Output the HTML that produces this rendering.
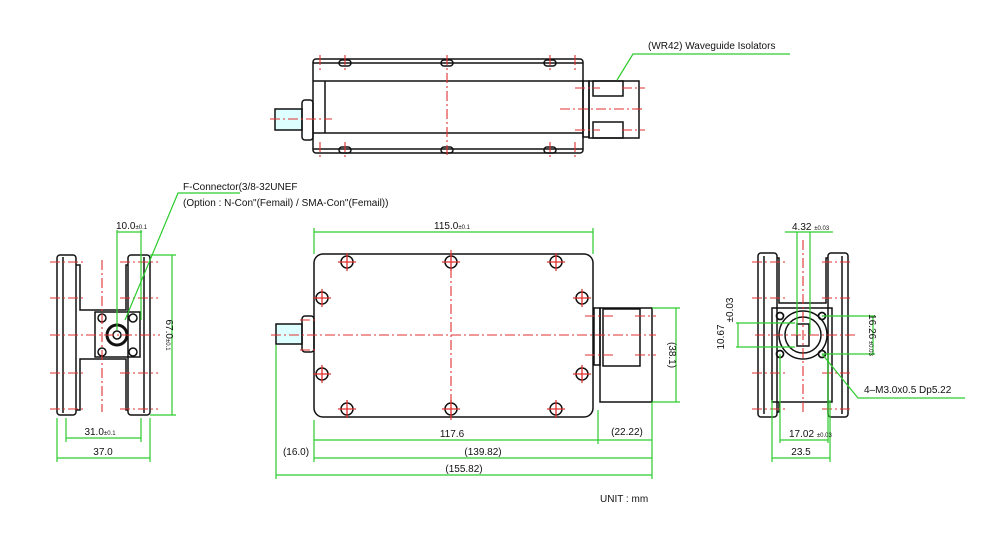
<!DOCTYPE html>
<html><head><meta charset="utf-8"><style>
html,body{margin:0;padding:0;background:#fff}
svg{display:block}
text{font-family:"Liberation Sans",sans-serif;fill:#111;font-size:10px}
.k{stroke:#111;stroke-width:1.5;fill:none}
.r{stroke:#e03030;stroke-width:1.1;fill:none;stroke-dasharray:10 3 2 3}
.g{stroke:#2ccc2c;stroke-width:1.2;fill:none}
</style></head><body>
<svg width="1004" height="554" viewBox="0 0 1004 554">
<!-- TOP VIEW -->
<rect class="k" x="313" y="59" width="270" height="94" rx="3"/>
<line class="k" x1="313" y1="63" x2="583" y2="63"/><line class="k" x1="313" y1="81" x2="583" y2="81"/>
<line class="k" x1="313" y1="133" x2="583" y2="133"/><line class="k" x1="313" y1="149" x2="583" y2="149"/>
<line class="k" x1="325" y1="81" x2="325" y2="133"/>
<rect class="k" x="583" y="81" width="6" height="56"/>
<rect class="k" x="589" y="81" width="50" height="57"/>
<rect class="k" x="593" y="81" width="30" height="15"/><rect class="k" x="593" y="122" width="30" height="16"/>
<rect class="k" x="275" y="109" width="27" height="21" style="fill:#dff"/>
<rect class="k" x="302" y="100" width="11" height="40" rx="3"/>
<g class="k"><rect x="339" y="60" width="12" height="6" rx="3"/><rect x="441" y="60" width="12" height="6" rx="3"/><rect x="544" y="60" width="12" height="6" rx="3"/>
<rect x="339" y="147" width="12" height="6" rx="3"/><rect x="441" y="147" width="12" height="6" rx="3"/><rect x="544" y="147" width="12" height="6" rx="3"/></g>
<g class="r"><line x1="447" y1="55" x2="447" y2="158"/><line x1="270" y1="119" x2="332" y2="119"/><line x1="560" y1="109" x2="645" y2="109"/>
<line x1="575" y1="88" x2="600" y2="88"/><line x1="622" y1="88" x2="645" y2="88"/><line x1="575" y1="130" x2="600" y2="130"/><line x1="622" y1="130" x2="645" y2="130"/>
<line x1="345" y1="55" x2="345" y2="70"/><line x1="550" y1="55" x2="550" y2="70"/><line x1="345" y1="142" x2="345" y2="158"/><line x1="550" y1="142" x2="550" y2="158"/>
<line x1="320" y1="55" x2="320" y2="70"/><line x1="575" y1="55" x2="575" y2="70"/><line x1="320" y1="142" x2="320" y2="158"/><line x1="575" y1="142" x2="575" y2="158"/></g>
<polyline class="g" points="617,80 633,54 790,54"/>
<text x="648" y="49" font-size="9">(WR42) Waveguide Isolators</text>

<!-- FRONT VIEW -->
<rect class="k" x="314" y="254" width="279" height="163" rx="9"/>
<rect class="k" x="594" y="308" width="6" height="57"/>
<rect class="k" x="600" y="308" width="52" height="94"/>
<rect class="k" x="603" y="309" width="37" height="57"/>
<rect class="k" x="276" y="324" width="26" height="20" style="fill:#dff"/>
<rect class="k" x="302" y="316" width="12" height="36" rx="3"/>
<g class="k" stroke-width="2.2">
<circle cx="347" cy="262" r="6"/><circle cx="451" cy="262" r="6"/><circle cx="556" cy="262" r="6"/>
<circle cx="322" cy="298" r="6"/><circle cx="582" cy="298" r="6"/><circle cx="322" cy="374" r="6"/><circle cx="582" cy="374" r="6"/>
<circle cx="347" cy="409" r="6"/><circle cx="451" cy="409" r="6"/><circle cx="556" cy="409" r="6"/></g>
<g stroke="#e03030" stroke-width="1.3">
<path d="M338 262h18M347 253v18M442 262h18M451 253v18M547 262h18M556 253v18M313 298h18M322 289v18M573 298h18M582 289v18M313 374h18M322 365v18M573 374h18M582 365v18M338 409h18M347 400v18M442 409h18M451 400v18M547 409h18M556 400v18"/></g>
<g class="r"><line x1="271" y1="335" x2="656" y2="335"/><line x1="451" y1="250" x2="451" y2="420"/>
<line x1="300" y1="320" x2="316" y2="320"/><line x1="300" y1="350" x2="316" y2="350"/>
<line x1="585" y1="316" x2="615" y2="316"/><line x1="635" y1="316" x2="656" y2="316"/><line x1="585" y1="355" x2="615" y2="355"/><line x1="635" y1="355" x2="656" y2="355"/></g>
<g class="g">
<path d="M314 232H593M314 228V254M593 228V254"/>
<path d="M314 440H652M314 420V462M652 402V479M598 410V444"/>
<path d="M314 458H652M276 475H652M276 345V479"/>
<path d="M652 308H680M652 402H680M676 308V402"/></g>
<text x="452" y="229" text-anchor="middle">115.0<tspan font-size="6">±0.1</tspan></text>
<text x="452" y="437" text-anchor="middle">117.6</text>
<text x="627" y="435" text-anchor="middle">(22.22)</text>
<text x="296" y="455" text-anchor="middle">(16.0)</text>
<text x="483" y="455" text-anchor="middle">(139.82)</text>
<text x="464" y="472" text-anchor="middle">(155.82)</text>
<text transform="translate(669,355) rotate(90)" text-anchor="middle">(38.1)</text>

<!-- LEFT VIEW -->
<rect class="k" x="57" y="255" width="19" height="160" rx="3"/><rect class="k" x="128" y="255" width="22" height="160" rx="3"/>
<line class="k" x1="63" y1="257" x2="63" y2="413"/><line class="k" x1="144" y1="257" x2="144" y2="413"/>
<path class="k" d="M76 265H80V310H126V265H128M76 410H80V359H126V410H128"/>
<rect class="k" x="95" y="312" width="45" height="45"/>
<circle cx="117" cy="335" r="10" fill="none" stroke="#111" stroke-width="3"/><circle class="k" cx="117" cy="335" r="4"/>
<g class="k"><circle cx="102" cy="318" r="4"/><circle cx="133" cy="318" r="4"/><circle cx="102" cy="352" r="4"/><circle cx="133" cy="352" r="4"/></g>
<g class="r"><line x1="102" y1="260" x2="102" y2="412"/><line x1="50" y1="335" x2="160" y2="335"/>
<line x1="50" y1="262" x2="85" y2="262"/><line x1="120" y1="262" x2="158" y2="262"/><line x1="50" y1="298" x2="85" y2="298"/><line x1="120" y1="298" x2="158" y2="298"/>
<line x1="50" y1="373" x2="85" y2="373"/><line x1="120" y1="373" x2="158" y2="373"/><line x1="50" y1="409" x2="85" y2="409"/><line x1="120" y1="409" x2="158" y2="409"/></g>
<g class="g"><path d="M117 232H142M117 230V330M141 230V320"/><path d="M150 255H176M150 415H176M172 255V415"/>
<path d="M66 438H141M66 418V442M141 418V442M57 458H150M57 418V462M150 418V462"/>
<polyline points="125,320 178,193 240,193"/></g>
<text x="116" y="229">10.0<tspan font-size="6">±0.1</tspan></text>
<text transform="translate(166,335) rotate(90)" text-anchor="middle">67.0<tspan font-size="6">±0.1</tspan></text>
<text x="100" y="435" text-anchor="middle">31.0<tspan font-size="6">±0.1</tspan></text>
<text x="103" y="455" text-anchor="middle">37.0</text>
<text x="183" y="190" font-size="9">F-Connector(3/8-32UNEF</text>
<text x="183" y="206" font-size="9">(Option : N-Con"(Femail) / SMA-Con"(Femail))</text>

<!-- RIGHT VIEW -->
<rect class="k" x="758" y="253" width="19" height="164" rx="3"/><rect class="k" x="828" y="253" width="20" height="164" rx="3"/>
<line class="k" x1="764" y1="256" x2="764" y2="414"/><line class="k" x1="842" y1="256" x2="842" y2="414"/>
<path class="k" d="M777 258H779V303H826V258H828M777 412H779V402"/>
<rect class="k" x="772" y="308" width="60" height="94"/>
<circle class="k" cx="803" cy="335" r="24" stroke-width="1.7"/><circle class="k" cx="803" cy="335" r="18"/>
<rect class="k" x="797" y="324" width="12" height="22"/>
<g fill="none" stroke="#111" stroke-width="1.7"><circle cx="780" cy="316" r="3.5"/><circle cx="822" cy="316" r="3.5"/><circle cx="780" cy="354" r="3.5"/><circle cx="822" cy="354" r="3.5"/></g>
<g class="r"><line x1="803" y1="240" x2="803" y2="412"/><line x1="755" y1="335" x2="855" y2="335"/>
<line x1="752" y1="262" x2="785" y2="262"/><line x1="822" y1="262" x2="852" y2="262"/><line x1="752" y1="298" x2="785" y2="298"/><line x1="822" y1="298" x2="852" y2="298"/>
<line x1="752" y1="373" x2="785" y2="373"/><line x1="822" y1="373" x2="852" y2="373"/><line x1="752" y1="409" x2="785" y2="409"/><line x1="822" y1="409" x2="852" y2="409"/></g>
<g class="g"><path d="M785 232H833M797 232V335M810 232V335"/>
<path d="M822 316H875M822 354H875M873 316V354"/>
<path d="M736 323H795M736 347H795M738 323V347"/>
<path d="M780 354V443M828 354V443M780 440H828M772 400V462M830 400V462M772 458H830"/>
<polyline points="822,354 858,398 965,398"/></g>
<text x="792" y="230">4.32 <tspan font-size="6">±0.03</tspan></text>
<text transform="translate(869,335) rotate(90)" text-anchor="middle">16.26<tspan font-size="6"> ±0.03</tspan></text>
<text transform="translate(724,337) rotate(-90)" text-anchor="middle">10.67</text>
<text transform="translate(733,310) rotate(-90)" text-anchor="middle" font-size="6">±0.03</text>
<text x="864" y="393" font-size="9.5">4–M3.0x0.5  Dp5.22</text>
<text x="789" y="437">17.02 <tspan font-size="6">±0.03</tspan></text>
<text x="801" y="455" text-anchor="middle">23.5</text>

<text x="600" y="502" font-size="10">UNIT  :  mm</text>
</svg>
</body></html>
